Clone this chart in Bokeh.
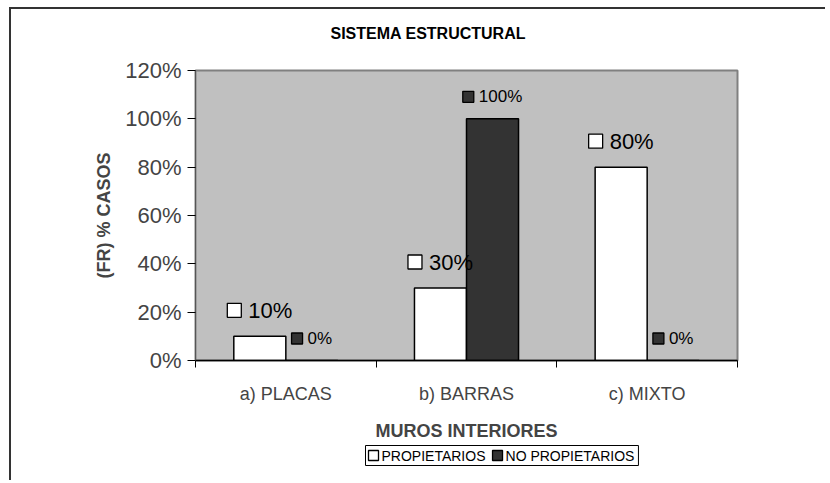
from bokeh.plotting import figure
from bokeh.layouts import column
from bokeh.models import ColumnDataSource, Range1d, FixedTicker, PrintfTickFormatter
from bokeh.core.properties import value
from bokeh.embed import file_html
from bokeh.resources import INLINE

# ---- data ----
title_text = "SISTEMA ESTRUCTURAL"
categories = ["a) PLACAS", "b) BARRAS", "c) MIXTO"]
series_names = ["PROPIETARIOS", "NO PROPIETARIOS"]
propietarios = [10, 30, 80]
no_propietarios = [0, 100, 0]
y_ticks = [0, 20, 40, 60, 80, 100, 120]

FONT = "Liberation Sans"
FONT_V = value(FONT)
FW, FH = 542, 290                  # frame size
FL, FR, FT, FB = 184, 88, 13, 79   # borders around the frame
TH, LH = 48, 37                    # title strip / legend strip heights
px_x = FW / len(categories)        # pixels per x unit
px_y = FH / 120.0                  # pixels per y unit

bw = 0.288
centers = [i + 0.5 for i in range(len(categories))]
x_p = [c - bw / 2 for c in centers]
x_n = [c + bw / 2 for c in centers]

WHITE, DARK = "white", "#333333"

# approximate Arial/Liberation Sans advance widths (em)
CW = {"%": 0.889, "P": 0.667, "R": 0.722, "O": 0.778, "I": 0.278, "E": 0.667,
      "T": 0.611, "A": 0.667, "S": 0.667, "N": 0.722, " ": 0.278}


def text_w(s, fs):
    return sum(CW.get(ch, 0.556) for ch in s) * fs


def strip(h):
    f = figure(frame_width=FW, frame_height=h, output_backend="svg", toolbar_location=None,
               x_range=Range1d(0, len(categories)), y_range=Range1d(0, 1),
               x_axis_location=None, y_axis_location=None,
               min_border_left=FL, min_border_right=FR, min_border_top=0, min_border_bottom=0,
               border_fill_color="white", background_fill_color="white")
    f.outline_line_color = None
    f.xgrid.visible = False
    f.ygrid.visible = False
    return f


# ---- title strip ----
tf = strip(TH)
tf.text(x=[135 / px_x], y=[0.5], text=[title_text], text_font=FONT_V, text_font_size="16px",
        text_font_style="bold", text_baseline="middle", text_align="left", text_color="black")

# ---- main chart ----
p = figure(frame_width=FW, frame_height=FH, output_backend="svg", toolbar_location=None,
           x_range=Range1d(0, len(categories)), y_range=Range1d(0, 120),
           min_border_left=FL, min_border_right=FR, min_border_top=FT, min_border_bottom=FB,
           background_fill_color="#C0C0C0", border_fill_color="white")
p.title.visible = False
p.outline_line_color = "#808080"
p.outline_line_width = 2
p.xgrid.visible = False
p.ygrid.visible = False

src_p = ColumnDataSource(dict(x=x_p, top=propietarios))
src_n = ColumnDataSource(dict(x=x_n, top=no_propietarios))
p.vbar(x="x", top="top", width=bw, source=src_p, fill_color=WHITE,
       line_color="black", line_width=1.5)
p.vbar(x="x", top="top", width=bw, source=src_n, fill_color=DARK,
       line_color="black", line_width=1.5)


# value labels: small square key + text, centred above each bar
def labels(xs, vals, fs, sq, gap, above, fill):
    sx, sy, tx, ty, tt = [], [], [], [], []
    for x, v in zip(xs, vals):
        t = f"{v}%"
        total = sq + gap + text_w(t, fs)
        start = -total / 2
        sx.append(x + (start + sq / 2) / px_x)
        tx.append(x + (start + sq + gap) / px_x)
        yy = v + above / px_y
        sy.append(yy)
        ty.append(yy)
        tt.append(t)
    p.scatter(x=sx, y=sy, marker="square", size=sq, fill_color=fill,
              line_color="black", line_width=1.3)
    p.text(x=tx, y=ty, text=tt, text_font=FONT_V, text_font_size=f"{fs}px",
           text_baseline="middle", text_align="left", text_color="black")


labels(x_p, propietarios, 22, 14, 7, 26, WHITE)
labels(x_n, no_propietarios, 17, 11, 5, 22, DARK)

# axes
xa = p.xaxis[0]
xa.ticker = FixedTicker(ticks=centers, minor_ticks=list(range(len(categories) + 1)))
xa.major_label_overrides = {c: cat for c, cat in zip(centers, categories)}
xa.major_tick_line_color = None
xa.major_tick_out = 0
xa.major_tick_in = 0
xa.minor_tick_line_color = "black"
xa.minor_tick_out = 7
xa.minor_tick_in = 0
xa.major_label_standoff = 16
xa.major_label_text_font = FONT
xa.major_label_text_font_size = "18px"
xa.axis_line_color = "black"
xa.axis_line_width = 1.5
xa.axis_label = "MUROS INTERIORES"
xa.axis_label_text_font = FONT
xa.axis_label_text_font_size = "18px"
xa.axis_label_text_font_style = "bold"
xa.axis_label_standoff = 14

ya = p.yaxis[0]
ya.ticker = FixedTicker(ticks=y_ticks)
ya.formatter = PrintfTickFormatter(format="%d%%")
ya.minor_tick_line_color = None
ya.major_tick_out = 8
ya.major_tick_in = 0
ya.major_tick_line_color = "black"
ya.axis_line_color = "#555555"
ya.major_label_text_font = FONT
ya.major_label_text_font_size = "22px"
ya.major_label_standoff = 6
ya.axis_label = "(FR) % CASOS"
ya.axis_label_text_font = FONT
ya.axis_label_text_font_size = "18px"
ya.axis_label_text_font_style = "bold"
ya.axis_label_standoff = 8

# ---- legend strip (manual legend box) ----
lg = strip(LH)
LFS = 14
L0 = 170                      # left edge of legend box, px from frame left
yb, yt = 15 / LH, 35 / LH     # box bottom / top
ym = (yb + yt) / 2
key_cx, txt_x = [], []
cur = L0 + 3
for name in series_names:
    key_cx.append((cur + 5) / px_x)
    txt_x.append((cur + 13) / px_x)
    cur = cur + 13 + text_w(name, LFS) + 6
box_r = cur - 6 + 3
lg.quad(left=[L0 / px_x], right=[box_r / px_x], bottom=[yb], top=[yt],
        fill_color="white", line_color="black", line_width=1)
lg.scatter(x=key_cx, y=[ym] * len(series_names), marker="square", size=10,
           fill_color=[WHITE, DARK], line_color="black", line_width=1.3)
lg.text(x=txt_x, y=[ym] * len(series_names), text=series_names, text_font=FONT_V,
        text_font_size=f"{LFS}px", text_baseline="middle", text_align="left",
        text_color="black")

layout = column(tf, p, lg, spacing=0)
layout.styles = {"margin-left": "9px", "margin-top": "7px",
                 "border-top": "2px solid #333333", "border-left": "2px solid #333333"}

open("out.html", "w").write(file_html(layout, INLINE))
